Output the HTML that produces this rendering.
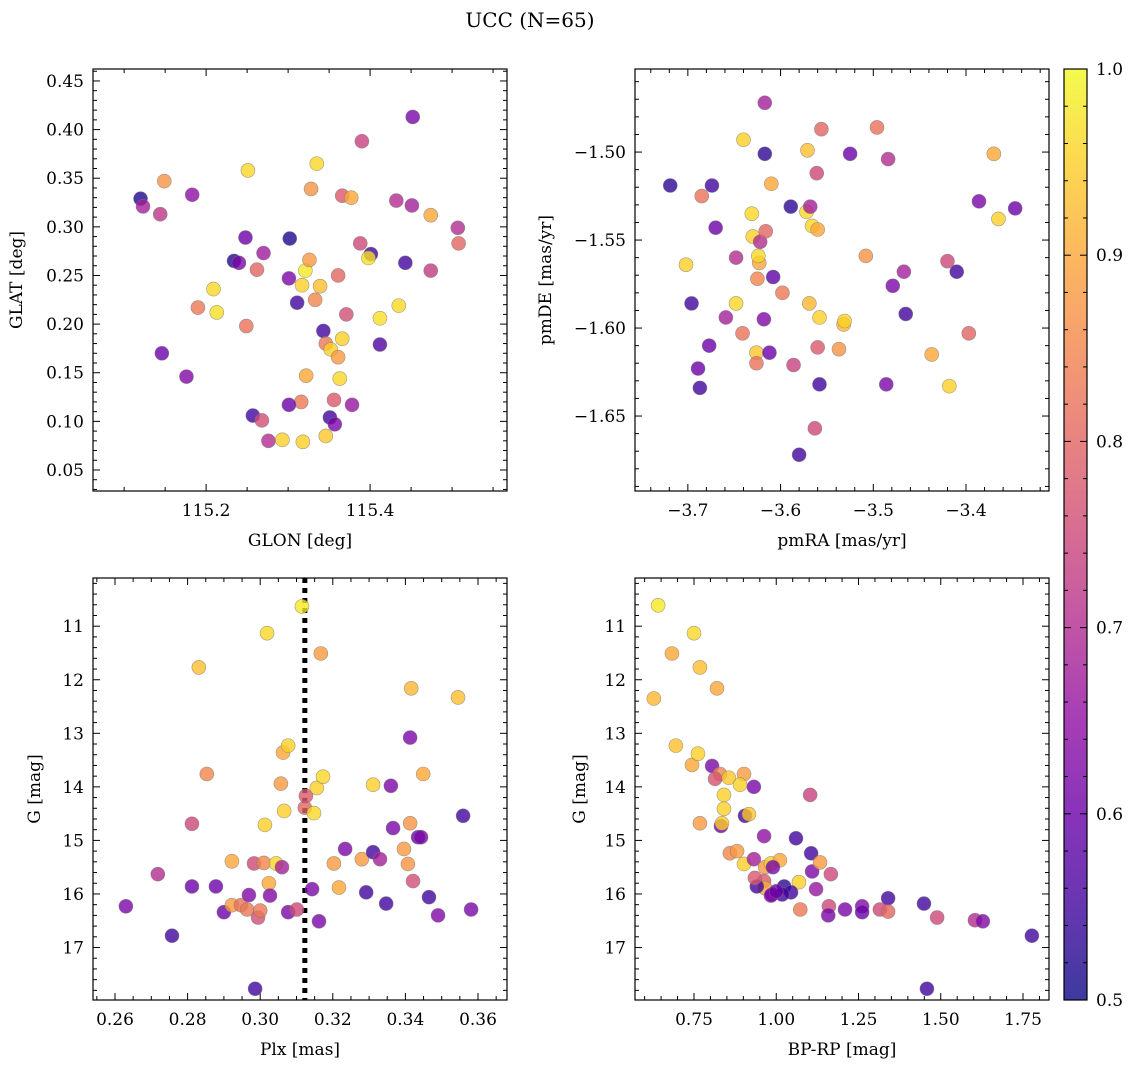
<!DOCTYPE html>
<html><head><meta charset="utf-8">
<style>
html,body{margin:0;padding:0;background:#fff;}
svg{display:block;font-family:"DejaVu Serif","Liberation Serif",serif;}
</style></head>
<body>
<svg id="chart" width="1136" height="1068" viewBox="0 0 1136 1068" xmlns="http://www.w3.org/2000/svg">
<text x="530" y="27" text-anchor="middle" font-size="20">UCC (N=65)</text>
</svg>
<script>
// ---- Panel 1: GLON / GLAT ----
const glon = [115.120,115.123,115.144,115.149,115.183,115.146,115.176,115.190,115.209,115.213,115.234,115.240,115.248,115.251,115.249,115.262,115.270,115.257,115.268,115.276,115.293,115.302,115.301,115.311,115.317,115.321,115.326,115.328,115.335,115.339,115.333,115.322,115.316,115.301,115.318,115.346,115.351,115.357,115.343,115.346,115.352,115.361,115.363,115.366,115.356,115.378,115.371,115.361,115.366,115.377,115.388,115.390,115.401,115.398,115.412,115.412,115.443,115.435,115.432,115.451,115.452,115.474,115.474,115.507,115.508];
const glat = [0.329,0.321,0.313,0.347,0.333,0.170,0.146,0.217,0.236,0.212,0.265,0.263,0.289,0.358,0.198,0.256,0.273,0.106,0.101,0.080,0.081,0.288,0.247,0.222,0.240,0.255,0.266,0.339,0.365,0.239,0.225,0.147,0.120,0.117,0.079,0.085,0.104,0.097,0.193,0.180,0.174,0.166,0.144,0.185,0.122,0.117,0.210,0.250,0.332,0.330,0.283,0.388,0.272,0.268,0.206,0.179,0.263,0.219,0.327,0.322,0.413,0.312,0.255,0.299,0.283];
const prob1 = [0.52,0.68,0.72,0.87,0.65,0.6,0.63,0.83,0.96,0.97,0.52,0.62,0.6,0.96,0.82,0.8,0.67,0.55,0.76,0.7,0.95,0.52,0.62,0.55,0.95,0.98,0.88,0.87,0.96,0.93,0.85,0.9,0.83,0.6,0.95,0.94,0.55,0.62,0.55,0.83,0.95,0.88,0.96,0.95,0.78,0.66,0.76,0.8,0.78,0.9,0.75,0.74,0.55,0.97,0.97,0.57,0.55,0.96,0.7,0.68,0.62,0.9,0.73,0.7,0.8];
// ---- Panel 2: pmRA / pmDE ----
const pmra = [-3.719,-3.696,-3.689,-3.687,-3.702,-3.685,-3.677,-3.670,-3.674,-3.659,-3.648,-3.648,-3.641,-3.640,-3.630,-3.622,-3.626,-3.623,-3.625,-3.624,-3.631,-3.626,-3.617,-3.617,-3.616,-3.618,-3.610,-3.612,-3.608,-3.598,-3.589,-3.586,-3.572,-3.580,-3.569,-3.568,-3.571,-3.566,-3.560,-3.563,-3.561,-3.560,-3.556,-3.558,-3.558,-3.532,-3.531,-3.537,-3.525,-3.508,-3.496,-3.484,-3.486,-3.479,-3.467,-3.465,-3.437,-3.420,-3.418,-3.410,-3.397,-3.386,-3.370,-3.365,-3.347];
const pmde = [-1.519,-1.586,-1.623,-1.634,-1.564,-1.525,-1.610,-1.543,-1.519,-1.594,-1.560,-1.586,-1.603,-1.493,-1.548,-1.551,-1.614,-1.563,-1.572,-1.559,-1.535,-1.620,-1.472,-1.501,-1.545,-1.595,-1.518,-1.614,-1.571,-1.580,-1.531,-1.621,-1.534,-1.672,-1.586,-1.531,-1.499,-1.542,-1.544,-1.657,-1.512,-1.611,-1.487,-1.594,-1.632,-1.598,-1.596,-1.612,-1.501,-1.559,-1.486,-1.504,-1.632,-1.576,-1.568,-1.592,-1.615,-1.562,-1.633,-1.568,-1.603,-1.528,-1.501,-1.538,-1.532];
const prob2 = [0.53,0.55,0.6,0.55,0.95,0.82,0.6,0.6,0.55,0.68,0.7,0.96,0.82,0.95,0.95,0.7,0.94,0.9,0.85,0.96,0.96,0.82,0.68,0.53,0.8,0.63,0.9,0.6,0.58,0.83,0.53,0.74,0.96,0.55,0.92,0.68,0.93,0.96,0.9,0.75,0.75,0.78,0.8,0.95,0.55,0.92,0.95,0.87,0.6,0.87,0.82,0.7,0.62,0.62,0.68,0.55,0.9,0.75,0.95,0.55,0.8,0.62,0.9,0.95,0.6];
// ---- Panel 3: Plx / G ----
const plx = [0.2630,0.2718,0.2757,0.2812,0.2812,0.2831,0.2853,0.2878,0.2900,0.2922,0.2922,0.2947,0.2964,0.2969,0.2983,0.2994,0.3000,0.2986,0.3010,0.3013,0.3019,0.3024,0.3027,0.3044,0.3057,0.3060,0.3077,0.3066,0.3063,0.3077,0.3101,0.3115,0.3123,0.3126,0.3143,0.3148,0.3156,0.3162,0.3167,0.3173,0.3203,0.3217,0.3234,0.3280,0.3292,0.3311,0.3311,0.3330,0.3347,0.3360,0.3366,0.3396,0.3407,0.3413,0.3413,0.3416,0.3421,0.3435,0.3443,0.3449,0.3465,0.3490,0.3545,0.3559,0.3581];
const gmag3 = [16.23,15.63,16.78,15.86,14.69,11.77,13.76,15.86,16.34,15.39,16.21,16.21,16.29,16.02,15.43,16.44,16.31,17.77,15.42,14.71,11.13,15.80,16.03,15.43,13.94,15.50,16.34,14.45,13.36,13.23,16.29,10.63,14.39,14.17,15.91,14.49,14.02,16.51,11.51,13.81,15.43,15.88,15.16,15.35,15.97,15.22,13.96,15.35,16.18,13.98,14.77,15.16,15.44,13.08,14.68,12.16,15.76,14.94,14.94,13.76,16.06,16.40,12.33,14.54,16.29];
const prob3 = [0.62,0.7,0.55,0.6,0.75,0.93,0.85,0.6,0.6,0.9,0.88,0.82,0.83,0.63,0.75,0.76,0.83,0.55,0.85,0.95,0.96,0.9,0.63,0.96,0.88,0.68,0.62,0.95,0.9,0.95,0.75,0.98,0.8,0.78,0.62,0.96,0.95,0.62,0.88,0.96,0.88,0.9,0.62,0.88,0.55,0.55,0.95,0.68,0.55,0.62,0.62,0.88,0.87,0.62,0.87,0.92,0.76,0.6,0.62,0.9,0.55,0.63,0.93,0.55,0.62];
const plxLine = 0.3123;
// ---- Panel 4: BP-RP / G ----
const bprp = [0.641,0.628,0.683,0.750,0.768,0.820,0.695,0.744,0.762,0.805,0.829,0.814,0.856,0.902,0.890,0.932,0.841,0.841,0.768,0.832,0.835,0.905,0.917,1.103,0.963,1.060,0.859,0.881,0.902,0.932,0.966,0.984,1.011,0.990,1.106,1.109,1.133,1.166,0.963,0.966,1.069,1.121,0.941,0.987,1.024,1.045,1.018,0.984,1.073,1.160,1.158,1.209,1.261,1.261,1.340,1.315,1.340,1.449,1.489,1.604,1.628,1.777,1.458,0.935,1.000];
const gmag4 = [10.61,12.35,11.51,11.13,11.77,12.16,13.23,13.59,13.38,13.61,13.76,13.85,13.83,13.76,13.96,14.00,14.15,14.41,14.68,14.73,14.68,14.54,14.51,14.15,14.92,14.96,15.24,15.20,15.44,15.35,15.50,15.43,15.37,15.50,15.24,15.58,15.41,15.63,15.76,15.89,15.78,15.91,15.86,16.01,15.86,15.97,16.01,16.03,16.29,16.23,16.40,16.29,16.23,16.34,16.08,16.29,16.33,16.18,16.44,16.49,16.51,16.78,17.77,15.70,15.95];
const prob4 = [0.98,0.92,0.9,0.96,0.93,0.9,0.93,0.9,0.95,0.62,0.85,0.77,0.94,0.88,0.95,0.62,0.95,0.95,0.88,0.6,0.95,0.55,0.94,0.74,0.65,0.55,0.85,0.88,0.95,0.68,0.88,0.95,0.9,0.62,0.55,0.62,0.88,0.75,0.78,0.9,0.95,0.66,0.55,0.6,0.53,0.55,0.55,0.63,0.83,0.75,0.62,0.62,0.63,0.6,0.55,0.75,0.8,0.55,0.75,0.7,0.63,0.55,0.55,0.78,0.6];
// ---- Colorbar ticks ----
const cbTicks = ["0.5","0.6","0.7","0.8","0.9","1.0"];

const NS = "http://www.w3.org/2000/svg";
const svg = document.getElementById("chart");
const stops = ["#0d0887","#41049d","#6a00a8","#8f0da4","#b12a90","#cc4778","#e16462","#f2844b","#fca636","#fcce25","#f0f921"];
function hex(c){return [parseInt(c.substr(1,2),16),parseInt(c.substr(3,2),16),parseInt(c.substr(5,2),16)];}
function plasma(t){t=Math.max(0,Math.min(1,t));const f=t*10,i=Math.min(9,Math.floor(f)),r=f-i;const a=hex(stops[i]),b=hex(stops[i+1]);return "rgb("+a.map((v,k)=>Math.round(v+(b[k]-v)*r)).join(",")+")";}
function mk(tag,attrs,parent){const e=document.createElementNS(NS,tag);for(const k in attrs)e.setAttribute(k,attrs[k]);(parent||svg).appendChild(e);return e;}
function fmt(v,d){let s=v.toFixed(d);if(s.startsWith("-"))s="\u2212"+s.slice(1);return s;}

function panel(o){
  const g=mk("g",{});
  
  
  const X=v=>o.x0+(v-o.xmin)/(o.xmax-o.xmin)*(o.x1-o.x0);
  const Y=o.yinv? (v=>o.y0+(v-o.ymin)/(o.ymax-o.ymin)*(o.y1-o.y0)) : (v=>o.y1-(v-o.ymin)/(o.ymax-o.ymin)*(o.y1-o.y0));
  const tk=mk("g",{stroke:"#000","stroke-width":1},g);
  
  
  const eps=1e-9;
  for(let v=Math.ceil(o.xmin/o.xminor-eps)*o.xminor; v<=o.xmax+eps; v+=o.xminor){
    const major=Math.abs(v/o.xmajor-Math.round(v/o.xmajor))<1e-6; const L=major?7:4; const px=X(v);
    mk("line",{x1:px,x2:px,y1:o.y1,y2:o.y1-L},tk); mk("line",{x1:px,x2:px,y1:o.y0,y2:o.y0+L},tk);
    if(major){const t=mk("text",{x:px,y:o.y1+25,"text-anchor":"middle","font-size":17},g);t.textContent=fmt(v,o.xd);
      
      }
  }
  const ylo=Math.min(o.ymin,o.ymax), yhi=Math.max(o.ymin,o.ymax);
  for(let v=Math.ceil(ylo/o.yminor-eps)*o.yminor; v<=yhi+eps; v+=o.yminor){
    const major=Math.abs(v/o.ymajor-Math.round(v/o.ymajor))<1e-6; const L=major?7:4; const py=Y(v);
    mk("line",{x1:o.x0,x2:o.x0+L,y1:py,y2:py},tk); mk("line",{x1:o.x1,x2:o.x1-L,y1:py,y2:py},tk);
    if(major){const t=mk("text",{x:o.x0-9,y:py+6,"text-anchor":"end","font-size":17},g);t.textContent=fmt(v,o.yd);
      
      }
  }
  if(o.vline!==undefined){const l=mk("line",{x1:X(o.vline),x2:X(o.vline),y1:o.y0,y2:o.y1,stroke:"#000","stroke-width":5,"stroke-dasharray":"5,5"},g);
    
    }
  for(let i=0;i<o.xs.length;i++){
    const c=mk("circle",{cx:X(o.xs[i]),cy:Y(o.ys[i]),r:7,fill:plasma((o.cs[i]-0.5)/0.5),"fill-opacity":0.8,stroke:"#777","stroke-width":0.6,"stroke-opacity":0.7},g);
    
    
  }
  const fr=mk("rect",{x:o.x0,y:o.y0,width:o.x1-o.x0,height:o.y1-o.y0,fill:"none",stroke:"#000","stroke-width":1.2},g);
  
  
  const xl=mk("text",{x:(o.x0+o.x1)/2,y:o.y1+55,"text-anchor":"middle","font-size":17},g);xl.textContent=o.xlabel;
  
  
  const yl=mk("text",{x:0,y:0,"text-anchor":"middle","font-size":17,transform:"translate("+o.ylx+","+((o.y0+o.y1)/2)+") rotate(-90)"},g);yl.textContent=o.ylabel;
  
  
}

panel({name:"glon-glat-panel",x0:93,x1:507,y0:69,y1:491,xmin:115.062,xmax:115.567,ymin:0.0284,ymax:0.4623,xmajor:0.2,xminor:0.05,ymajor:0.05,yminor:0.01,xd:1,yd:2,xs:glon,ys:glat,cs:prob1,xlabel:"GLON [deg]",ylabel:"GLAT [deg]",ylx:22});
panel({name:"pm-panel",x0:635,x1:1049,y0:69,y1:491,xmin:-3.757,xmax:-3.3105,ymin:-1.6926,ymax:-1.4528,xmajor:0.1,xminor:0.02,ymajor:0.05,yminor:0.01,xd:1,yd:2,xs:pmra,ys:pmde,cs:prob2,xlabel:"pmRA [mas/yr]",ylabel:"pmDE [mas/yr]",ylx:551});
panel({name:"plx-g-panel",x0:93,x1:507,y0:578,y1:1000,xmin:0.25394,xmax:0.36799,ymin:10.1,ymax:17.98,yinv:true,xmajor:0.02,xminor:0.005,ymajor:1,yminor:0.2,xd:2,yd:0,xs:plx,ys:gmag3,cs:prob3,xlabel:"Plx [mas]",ylabel:"G [mag]",ylx:40,vline:plxLine});
panel({name:"color-magnitude-panel",x0:635,x1:1049,y0:578,y1:1000,xmin:0.5707,xmax:1.829,ymin:10.1,ymax:17.98,yinv:true,xmajor:0.25,xminor:0.05,ymajor:1,yminor:0.2,xd:2,yd:0,xs:bprp,ys:gmag4,cs:prob4,xlabel:"BP-RP [mag]",ylabel:"G [mag]",ylx:585});

// colorbar
const defs=mk("defs",{});
const lg=mk("linearGradient",{id:"cbg",x1:0,y1:1,x2:0,y2:0},defs);
for(let i=0;i<=20;i++){mk("stop",{offset:(i/20),"stop-color":plasma(i/20),"stop-opacity":0.8},lg);}
const cb=mk("g",{});


const cbx0=1064,cbx1=1087,cby0=69,cby1=1000;
mk("rect",{x:cbx0,y:cby0,width:cbx1-cbx0,height:cby1-cby0,fill:"url(#cbg)",stroke:"#000","stroke-width":1.2},cb);
for(let i=0;i<=25;i++){const v=0.5+i*0.02;const py=cby1-(v-0.5)/0.5*(cby1-cby0);const major=i%5===0;
  mk("line",{x1:cbx1,x2:cbx1-(major?7:4),y1:py,y2:py,stroke:"#000"},cb);
  mk("line",{x1:cbx0,x2:cbx0+(major?7:4),y1:py,y2:py,stroke:"#000"},cb);}
cbTicks.forEach(s=>{const v=parseFloat(s);const py=cby1-(v-0.5)/0.5*(cby1-cby0);
  const t=mk("text",{x:cbx1+9,y:py+6,"font-size":17},cb);t.textContent=s;
  
  });
</script>
</body></html>
